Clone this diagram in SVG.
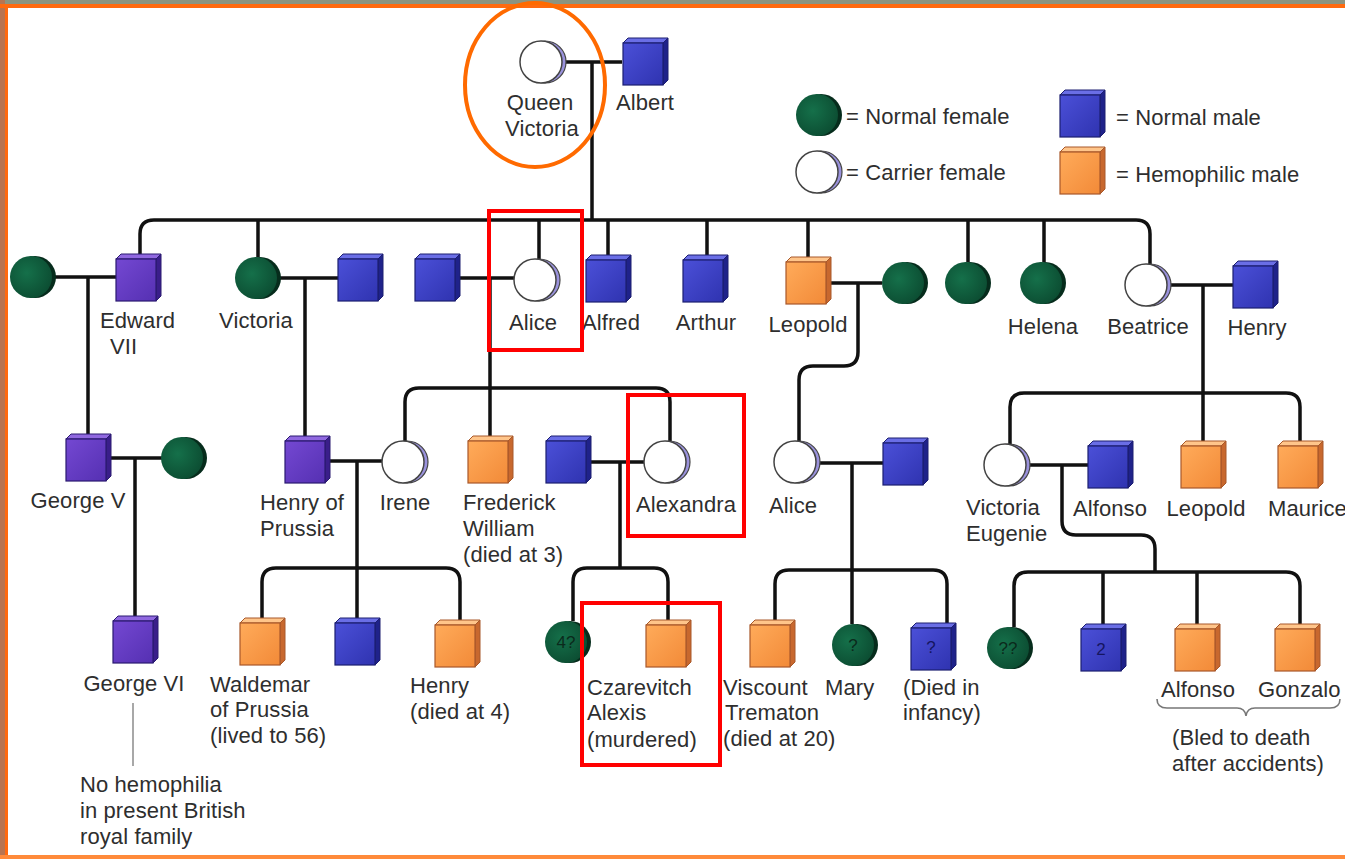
<svg xmlns="http://www.w3.org/2000/svg" xmlns:xlink="http://www.w3.org/1999/xlink" width="1345" height="859" viewBox="0 0 1345 859">
<defs>
<style>
.t{font-family:"Liberation Sans",Arial,sans-serif;font-size:22px;fill:#2e2e2e;letter-spacing:0.1px}
.c{text-anchor:middle}
.in{font-family:"Liberation Sans",Arial,sans-serif;font-size:17px;fill:#0b2a1c;text-anchor:middle}
.inb{font-family:"Liberation Sans",Arial,sans-serif;font-size:17px;fill:#151560;text-anchor:middle}
.ln{fill:none;stroke:#111;stroke-width:3.5;stroke-linejoin:round}
.red{fill:none;stroke:#ff0000;stroke-width:4}
</style>
<linearGradient id="gB" x1="0" y1="0" x2="1" y2="1"><stop offset="0" stop-color="#4b50d8"/><stop offset="1" stop-color="#2f33b0"/></linearGradient>
<linearGradient id="gP" x1="0" y1="0" x2="1" y2="1"><stop offset="0" stop-color="#7448d2"/><stop offset="1" stop-color="#5530b2"/></linearGradient>
<linearGradient id="gO" x1="0" y1="0" x2="1" y2="1"><stop offset="0" stop-color="#ffab5a"/><stop offset="1" stop-color="#f28a38"/></linearGradient>
<radialGradient id="gG" cx="0.4" cy="0.4" r="0.7"><stop offset="0" stop-color="#15704a"/><stop offset="1" stop-color="#0b4a30"/></radialGradient>
<g id="sqB">
<polygon points="-22,-20 -17,-25 23,-25 18,-20" fill="#6a6ee6" stroke="#1c1e70" stroke-width="1"/>
<polygon points="18,-20 23,-25 23,17 18,22" fill="#1f228a" stroke="#1c1e70" stroke-width="1"/>
<rect x="-22" y="-20" width="40" height="42" fill="url(#gB)" stroke="#1c1e70" stroke-width="1.2"/>
</g>
<g id="sqP">
<polygon points="-22,-20 -17,-25 23,-25 18,-20" fill="#9068e0" stroke="#2a1a70" stroke-width="1"/>
<polygon points="18,-20 23,-25 23,17 18,22" fill="#3a1e8a" stroke="#2a1a70" stroke-width="1"/>
<rect x="-22" y="-20" width="40" height="42" fill="url(#gP)" stroke="#2a1a70" stroke-width="1.2"/>
</g>
<g id="sqO">
<polygon points="-22,-20 -17,-25 23,-25 18,-20" fill="#ffc58a" stroke="#a8582a" stroke-width="1"/>
<polygon points="18,-20 23,-25 23,17 18,22" fill="#c8682e" stroke="#a8582a" stroke-width="1"/>
<rect x="-22" y="-20" width="40" height="42" fill="url(#gO)" stroke="#a8582a" stroke-width="1.2"/>
</g>
<g id="ciG">
<circle cx="4" cy="0" r="21" fill="#062c1c"/>
<circle cx="0" cy="0" r="21" fill="url(#gG)"/>
</g>
<g id="ciC">
<circle cx="4" cy="0" r="21" fill="#9a92dc" stroke="#444" stroke-width="1.2"/>
<circle cx="0" cy="0" r="21" fill="#ffffff" stroke="#444" stroke-width="1.5"/>
</g>
</defs>

<rect x="0" y="0" width="1345" height="859" fill="#ffffff"/>
<rect x="0" y="0" width="1345" height="4" fill="#8c9480"/>
<rect x="0" y="0" width="5" height="859" fill="#b87450"/>
<rect x="0" y="4" width="1345" height="4" fill="#ff6a10"/>
<rect x="5" y="4" width="3" height="855" fill="#ff6a10"/>
<rect x="0" y="855" width="1345" height="4" fill="#ff8a3a"/>

<g id="connectors">
<path class="ln" d="M561,62 H622 M592,62 V220"/>
<path class="ln" d="M140,257 V234 Q140,220 154,220 H1136 Q1150,220 1150,234 V264"/>
<path class="ln" d="M258,220 V257 M539,220 V259 M608,220 V256 M707,220 V256 M808,220 V258 M968,220 V262 M1044,220 V262"/>
<path class="ln" d="M55,277 H117 M88,277 V437"/>
<path class="ln" d="M279,278 H338 M305,278 V437"/>
<path class="ln" d="M459,278 H514 M490,278 V437"/>
<path class="ln" d="M405,441 V402 Q405,388 419,388 H656 Q670,388 670,402 V441"/>
<path class="ln" d="M830,283 H882 M858,283 V352 Q858,366 844,366 H813 Q799,366 799,380 V441"/>
<path class="ln" d="M1170,285 H1233 M1203,285 V442"/>
<path class="ln" d="M1010,444 V407 Q1010,393 1024,393 H1286 Q1300,393 1300,407 V442"/>
<path class="ln" d="M110,458 H162 M135,458 V617"/>
<path class="ln" d="M330,461 H382 M357,461 V619"/>
<path class="ln" d="M262,619 V582 Q262,568 276,568 H446 Q460,568 460,582 V621"/>
<path class="ln" d="M590,462 H644 M620,462 V568"/>
<path class="ln" d="M573,621 V582 Q573,568 587,568 H654 Q668,568 668,582 V621"/>
<path class="ln" d="M817,463 H883 M852,463 V624"/>
<path class="ln" d="M775,621 V584 Q775,570 789,570 H933 Q947,570 947,584 V624"/>
<path class="ln" d="M1027,465 H1088 M1062,465 V521 Q1062,535 1076,535 H1141 Q1155,535 1155,549 V572"/>
<path class="ln" d="M1014,627 V586 Q1014,572 1028,572 H1286 Q1300,572 1300,586 V625 M1103,572 V625 M1197,572 V625"/>
<path d="M133,703 V766" fill="none" stroke="#a8a8a8" stroke-width="2"/>
<path d="M1157,699 Q1157,708 1167,708 H1237 Q1245,708 1246,716 Q1247,708 1255,708 H1330 Q1340,708 1340,699" fill="none" stroke="#777" stroke-width="1.6"/>
</g>

<g id="legend">
<use xlink:href="#ciG" x="817" y="115"/>
<text class="t" x="846" y="124">= Normal female</text>
<use xlink:href="#ciC" x="817" y="172"/>
<text class="t" x="846" y="180">= Carrier female</text>
<use xlink:href="#sqB" x="1082" y="115"/>
<text class="t" x="1116" y="125">= Normal male</text>
<use xlink:href="#sqO" x="1082" y="172"/>
<text class="t" x="1116" y="182">= Hemophilic male</text>
</g>

<g id="queen-victoria"><use xlink:href="#ciC" x="541" y="62"/><text class="t c" x="540" y="110">Queen</text><text class="t c" x="542" y="136">Victoria</text></g>
<g id="albert"><use xlink:href="#sqB" x="645" y="63"/><text class="t c" x="645" y="110">Albert</text></g>

<g id="edward-wife"><use xlink:href="#ciG" x="31" y="277"/></g>
<g id="edward-vii"><use xlink:href="#sqP" x="138" y="279"/><text class="t" x="100" y="328">Edward</text><text class="t" x="110" y="354">VII</text></g>
<g id="victoria"><use xlink:href="#ciG" x="256" y="278"/><text class="t c" x="256" y="328">Victoria</text></g>
<g id="victoria-husband"><use xlink:href="#sqB" x="360" y="279"/></g>
<g id="alice-husband"><use xlink:href="#sqB" x="437" y="279"/></g>
<g id="alice"><use xlink:href="#ciC" x="535" y="280"/><text class="t c" x="533" y="330">Alice</text></g>
<g id="alfred"><use xlink:href="#sqB" x="608" y="280"/><text class="t c" x="611" y="330">Alfred</text></g>
<g id="arthur"><use xlink:href="#sqB" x="705" y="280"/><text class="t c" x="706" y="330">Arthur</text></g>
<g id="leopold"><use xlink:href="#sqO" x="808" y="282"/><text class="t c" x="808" y="332">Leopold</text></g>
<g id="leopold-wife"><use xlink:href="#ciG" x="903" y="283"/></g>
<g id="daughter-green"><use xlink:href="#ciG" x="966" y="283"/></g>
<g id="helena"><use xlink:href="#ciG" x="1041" y="283"/><text class="t c" x="1043" y="334">Helena</text></g>
<g id="beatrice"><use xlink:href="#ciC" x="1146" y="285"/><text class="t c" x="1148" y="334">Beatrice</text></g>
<g id="henry"><use xlink:href="#sqB" x="1255" y="286"/><text class="t c" x="1257" y="335">Henry</text></g>

<g id="george-v"><use xlink:href="#sqP" x="88" y="459"/><text class="t c" x="78" y="508">George V</text></g>
<g id="george-v-wife"><use xlink:href="#ciG" x="182" y="458"/></g>
<g id="henry-of-prussia"><use xlink:href="#sqP" x="307" y="461"/><text class="t" x="260" y="510">Henry of</text><text class="t" x="260" y="536">Prussia</text></g>
<g id="irene"><use xlink:href="#ciC" x="403" y="462"/><text class="t c" x="405" y="510">Irene</text></g>
<g id="frederick-william"><use xlink:href="#sqO" x="490" y="461"/><text class="t" x="463" y="510">Frederick</text><text class="t" x="463" y="536">William</text><text class="t" x="463" y="562">(died at 3)</text></g>
<g id="nicholas"><use xlink:href="#sqB" x="568" y="461"/></g>
<g id="alexandra"><use xlink:href="#ciC" x="665" y="462"/><text class="t c" x="686" y="512">Alexandra</text></g>
<g id="alice-2"><use xlink:href="#ciC" x="795" y="462"/><text class="t c" x="793" y="513">Alice</text></g>
<g id="alice-2-husband"><use xlink:href="#sqB" x="905" y="463"/></g>
<g id="victoria-eugenie"><use xlink:href="#ciC" x="1005" y="465"/><text class="t" x="966" y="515">Victoria</text><text class="t" x="966" y="541">Eugenie</text></g>
<g id="alfonso-xiii"><use xlink:href="#sqB" x="1110" y="466"/><text class="t c" x="1110" y="516">Alfonso</text></g>
<g id="leopold-2"><use xlink:href="#sqO" x="1203" y="466"/><text class="t c" x="1206" y="516">Leopold</text></g>
<g id="maurice"><use xlink:href="#sqO" x="1300" y="466"/><text class="t" x="1268" y="516">Maurice</text></g>

<g id="george-vi"><use xlink:href="#sqP" x="135" y="641"/><text class="t c" x="134" y="691">George VI</text></g>
<g id="waldemar"><use xlink:href="#sqO" x="262" y="643"/><text class="t" x="210" y="692">Waldemar</text><text class="t" x="210" y="717">of Prussia</text><text class="t" x="210" y="743">(lived to 56)</text></g>
<g id="prussia-son"><use xlink:href="#sqB" x="357" y="643"/></g>
<g id="henry-3"><use xlink:href="#sqO" x="457" y="645"/><text class="t" x="410" y="693">Henry</text><text class="t" x="410" y="719">(died at 4)</text></g>
<g id="daughters-4"><use xlink:href="#ciG" x="566" y="642"/><text class="in" x="566" y="648">4?</text></g>
<g id="alexis"><use xlink:href="#sqO" x="668" y="645"/><text class="t" x="587" y="695">Czarevitch</text><text class="t" x="587" y="720">Alexis</text><text class="t" x="587" y="747">(murdered)</text></g>
<g id="trematon"><use xlink:href="#sqO" x="772" y="645"/><text class="t" x="723" y="695">Viscount</text><text class="t" x="725" y="720">Trematon</text><text class="t" x="723" y="746">(died at 20)</text></g>
<g id="mary"><use xlink:href="#ciG" x="853" y="645"/><text class="in" x="853" y="651">?</text><text class="t" x="825" y="695">Mary</text></g>
<g id="infant"><use xlink:href="#sqB" x="933" y="648"/><text class="inb" x="931" y="653">?</text><text class="t" x="903" y="695">(Died in</text><text class="t" x="903" y="720">infancy)</text></g>
<g id="ve-daughters"><use xlink:href="#ciG" x="1008" y="648"/><text class="in" x="1008" y="654">??</text></g>
<g id="ve-sons"><use xlink:href="#sqB" x="1103" y="649"/><text class="inb" x="1101" y="655">2</text></g>
<g id="alfonso"><use xlink:href="#sqO" x="1197" y="649"/><text class="t c" x="1198" y="697">Alfonso</text></g>
<g id="gonzalo"><use xlink:href="#sqO" x="1297" y="649"/><text class="t" x="1258" y="697">Gonzalo</text></g>
<text class="t" x="1172" y="745">(Bled to death</text>
<text class="t" x="1172" y="771">after accidents)</text>
<text class="t" x="80" y="792">No hemophilia</text>
<text class="t" x="80" y="818">in present British</text>
<text class="t" x="80" y="844">royal family</text>

<g id="highlights">
<ellipse cx="535" cy="85" rx="70" ry="82" fill="none" stroke="#ff6a00" stroke-width="4"/>
<rect class="red" x="489" y="211" width="93" height="139"/>
<rect class="red" x="628" y="395" width="116" height="141"/>
<rect class="red" x="582" y="603" width="138" height="162"/>
</g>
</svg>
